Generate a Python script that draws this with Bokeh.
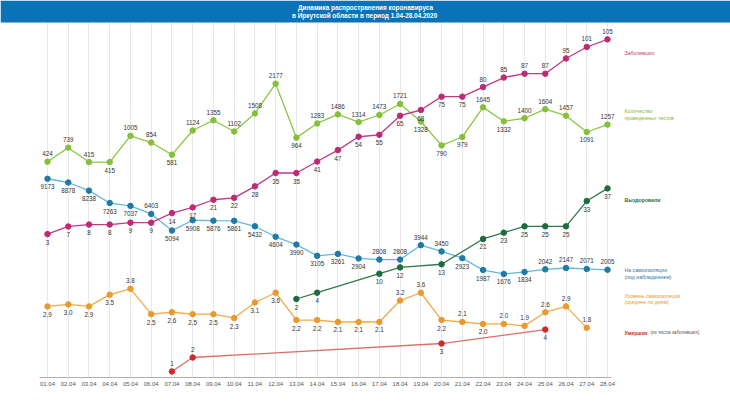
from bokeh.plotting import figure
from bokeh.models import Range1d, FixedTicker, ColumnDataSource, Label, BoxAnnotation
from bokeh.embed import file_html
from bokeh.resources import INLINE
from bokeh.core.properties import value

# ---------------- data ----------------
dates = ["01.04", "02.04", "03.04", "04.04", "05.04", "06.04", "07.04",
         "08.04", "09.04", "10.04", "11.04", "12.04", "13.04", "14.04",
         "15.04", "16.04", "17.04", "18.04", "19.04", "20.04", "21.04",
         "22.04", "23.04", "24.04", "25.04", "26.04", "27.04", "28.04"]

cases = [3, 7, 8, 8, 9, 9, 14, 17, 21, 22, 28, 35, 35, 41, 47, 54, 55, 65,
         68, 75, 75, 80, 85, 87, 87, 95, 101, 105]

tests = [424, 739, 415, 415, 1005, 854, 581, 1124, 1355, 1102, 1508, 2177,
         964, 1283, 1486, 1314, 1473, 1721, 1328, 790, 979, 1645, 1332, 1400,
         1604, 1457, 1091, 1257]

isolated = [9173, 8878, 8238, 7263, 7037, 6403, 5094, 5908, 5876, 5861, 5432,
            4604, 3990, 3105, 3261, 2904, 2808, 2808, 3944, 3450, 2923, 1987,
            1676, 1834, 2042, 2147, 2071, 2005]

isolation_level = [2.9, 3.0, 2.9, 3.5, 3.8, 2.5, 2.6, 2.5, 2.5, 2.3, 3.1, 3.6,
                   2.2, 2.2, 2.1, 2.1, 2.1, 3.2, 3.6, 2.2, 2.1, 2.0, 2.0, 1.9,
                   2.6, 2.9, 1.8, None]

recovered = [None, None, None, None, None, None, None, None, None, None, None,
             None, 2, 4, None, None, 10, 12, None, 13, None, 21, 23, 25, 25,
             25, 33, 37]

deaths = [None, None, None, None, None, None, 1, 2, None, None, None, None,
          None, None, None, None, None, None, None, 3, None, None, None, None,
          4, None, None, None]

# ---------------- layout / styles ----------------
W, H = 730, 407
FRAME_H = 377
X_FIRST, X_LAST = 47, 607
step = (X_LAST - X_FIRST) / (len(dates) - 1)
x0 = -X_FIRST / step
x1 = (len(dates) - 1) + (W - X_LAST) / step

FONT = "Liberation Sans"

p = figure(frame_width=W, frame_height=FRAME_H, x_range=Range1d(x0, x1),
           y_range=Range1d(0, FRAME_H),
           output_backend="svg", toolbar_location=None, y_axis_location=None,
           min_border_left=0, min_border_right=0, min_border_top=0,
           min_border_bottom=H - FRAME_H, outline_line_color=None,
           background_fill_color="white", border_fill_color="white")
p.extra_x_ranges = {"px": Range1d(0, W)}

idx = list(range(len(dates)))
p.xaxis.ticker = FixedTicker(ticks=idx)
p.xaxis.major_label_overrides = {i: d for i, d in enumerate(dates)}
p.xaxis.major_tick_line_color = None
p.xaxis.minor_tick_line_color = None
p.xaxis.major_tick_out = 0
p.xaxis.major_tick_in = 0
p.xaxis.minor_tick_out = 0
p.xaxis.axis_line_color = "#b0b0b0"
p.xaxis.bounds = (-0.4, len(dates) - 1 + 0.2)
p.xaxis.major_label_text_font = FONT
p.xaxis.major_label_text_font_size = "6px"
p.xaxis.major_label_text_color = "#555555"
p.xaxis.major_label_standoff = 4
p.xgrid.ticker = FixedTicker(ticks=idx)
p.xgrid.grid_line_color = "#e8e8e8"
p.ygrid.grid_line_color = None

# per-series vertical scales (each series has its own band in the infographic)
p.extra_y_ranges = {
    "cases": Range1d(-72.1, 125.35),
    "tests": Range1d(-4426, 4046),
    "isolated": Range1d(-6476, 23210),
    "recovered": Range1d(-22.84, 96.46),
    "level": Range1d(-0.747, 18.587),
    "deaths": Range1d(0.569, 27.54),
}

series = [
    # name, values, line colour, dot colour, label sides, formatter
    ("tests", tests, "#8dc641", "#86c03a", "aaabaabaaaaabaaaaabbbabaaaba", "{:d}"),
    ("isolated", isolated, "#62b9dc", "#1f7aa8", "bbbbbabbbbbbbbbbaaaabbbbaaaa", "{:d}"),
    ("level", isolation_level, "#f2ab48", "#e89a2e", "bbbbabbbbbbbbbbbbaababaaaaaab", "{:.1f}"),
    ("deaths", deaths, "#dc6f6a", "#cf2b27", "aabb", "{:d}"),
    ("recovered", recovered, "#2e7a4c", "#1f6b3f", "bbbbbbbbbbbb", "{:d}"),
    ("cases", cases, "#c23a80", "#bf2a78", "b" * 21 + "a" * 7, "{:d}"),
]

for name, vals, lcol, dcol, sides, fmt in series:
    xs = [i for i, v in zip(idx, vals) if v is not None]
    ys = [v for v in vals if v is not None]
    labels = [fmt.format(v) for v in ys]
    dy = [-8 if s == "a" else 8 for s in sides[:len(ys)]]
    src = ColumnDataSource(dict(x=xs, y=ys, label=labels, dy=dy))
    p.line("x", "y", source=src, line_color=lcol, line_width=1.3, y_range_name=name)
    p.scatter("x", "y", source=src, size=5.5, fill_color=dcol, line_color=dcol,
              y_range_name=name)
    p.text("x", "y", text="label", source=src, y_offset="dy", text_align="center",
           text_baseline="middle", text_font=value(FONT), text_font_size="6.3px",
           text_color="#333333", y_range_name=name)

# ---------------- title banner ----------------
p.add_layout(BoxAnnotation(bottom=FRAME_H - 22, fill_color="#0b72b8", fill_alpha=1.0,
                           line_color=None))
for txt, py in [("Динамика распространения коронавируса", 7),
                ("в Иркутской области в период  1.04-28.04.2020", 15.3)]:
    p.add_layout(Label(x=W / 2, y=FRAME_H - py, x_range_name="px", text=txt,
                       text_align="center", text_baseline="middle",
                       text_font=FONT, text_font_style="bold",
                       text_font_size="6.4px", text_color="white"))

# ---------------- series names on the right ----------------
names = [
    ("Заболевших", 52, "#c23a80", "normal"),
    ("Количество", 110, "#7fb83a", "normal"),
    ("проведенных тестов", 117, "#7fb83a", "normal"),
    ("Выздоровели", 199, "#1f6b3f", "bold"),
    ("На самоизоляции", 269, "#1f7aa8", "normal"),
    ("(под наблюдением)", 276, "#1f7aa8", "normal"),
    ("Уровень самоизоляции", 295, "#e89a2e", "normal"),
    ("(среднее по дням)", 301.5, "#e89a2e", "normal"),
    ("Умерших", 332, "#cf2b27", "bold"),
]
for txt, py, col, style in names:
    p.add_layout(Label(x=624, y=FRAME_H - py, x_range_name="px", text=txt,
                       text_align="left", text_baseline="middle", text_font=FONT,
                       text_font_style=style, text_font_size="5.2px", text_color=col))
p.add_layout(Label(x=650, y=FRAME_H - 332, x_range_name="px",
                   text="(из числа заболевших)", text_align="left",
                   text_baseline="middle", text_font=FONT, text_font_size="4.6px",
                   text_color="#555555"))

open("out.html", "w").write(file_html(p, INLINE))
